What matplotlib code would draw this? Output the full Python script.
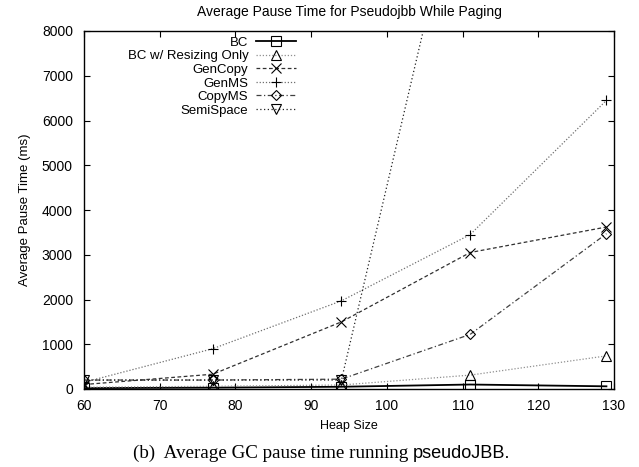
import matplotlib
matplotlib.use("Agg")
import matplotlib.pyplot as plt

heap_size = [60, 77, 94, 111, 129]

bc = [20, 30, 50, 100, 60]
bc_resize = [40, 60, 90, 310, 740]
gencopy = [100, 330, 1500, 3050, 3620]
genms = [150, 900, 1970, 3450, 6450]
copyms = [200, 200, 220, 1220, 3470]
semispace = [200, 200, 200, 12480, 25000]

series = [
    ("BC", bc, dict(color="#000000", linestyle="-", marker="s", lw=1.3)),
    ("BC w/ Resizing Only", bc_resize, dict(color="#909090", linestyle=(0, (1, 1.5)), marker="^", lw=0.9)),
    ("GenCopy", gencopy, dict(color="#303030", linestyle=(0, (3, 2)), marker="x", lw=0.9)),
    ("GenMS", genms, dict(color="#707070", linestyle=(0, (1, 1.5)), marker="+", lw=0.9)),
    ("CopyMS", copyms, dict(color="#404040", linestyle=(0, (4, 2, 1, 2)), marker="D", lw=0.9)),
    ("SemiSpace", semispace, dict(color="#202020", linestyle=(0, (1, 2)), marker="v", lw=0.9)),
]

plt.rcParams["font.family"] = ["Liberation Sans", "DejaVu Sans"]
plt.rcParams["font.size"] = 9

fig = plt.figure(figsize=(6.39, 4.67), dpi=100)
ax = fig.add_axes([84 / 639, 1 - 389 / 467, 530 / 639, 358 / 467])

for label, values, style in series:
    mk = style.pop("marker")
    ms = 5 if mk == "D" else 7
    ax.plot(heap_size, values, label=label, marker=mk, markersize=ms,
            markerfacecolor="none", markeredgecolor="black", markeredgewidth=0.8,
            clip_on=True, **style)

ax.set_xlim(60, 130)
ax.set_ylim(0, 8000)
ax.set_xticks(range(60, 131, 10))
ax.set_yticks(range(0, 8001, 1000))
ax.tick_params(direction="in", top=True, right=True, length=4, labelsize=10)
ax.tick_params(axis="x", pad=7)
ax.tick_params(axis="y", pad=8)
for s in ax.spines.values():
    s.set_linewidth(1.0)

ax.set_title("Average Pause Time for Pseudojbb While Paging", fontsize=10, pad=11)
ax.set_xlabel("Heap Size", fontsize=9, labelpad=5)
ax.set_ylabel("Average Pause Time (ms)", fontsize=9.5, labelpad=8)

leg = ax.legend(loc="upper left", frameon=False,
                markerfirst=False, handlelength=3.0, handletextpad=0.6,
                labelspacing=0.1, fontsize=9.5, borderaxespad=0.3)
leg.set_bbox_to_anchor((0.065, 1.01), transform=ax.transAxes)
for col in leg._legend_handle_box.get_children():
    col.align = "right"

# caption: serif text followed by sans "pseudoJBB."
fig.canvas.draw()
renderer = fig.canvas.get_renderer()
t1 = fig.text(0, 0, "(b)  Average GC pause time running ", family="Liberation Serif",
              fontsize=13.7, va="baseline")
t2 = fig.text(0, 0, "pseudoJBB.", family="Liberation Sans", fontsize=13.1, va="baseline")
w1 = t1.get_window_extent(renderer).width
w2 = t2.get_window_extent(renderer).width
x0 = (639 - w1 - w2) / 2 + 2
y0 = 1 - 458 / 467
t1.set_position((x0 / 639, y0))
t2.set_position(((x0 + w1) / 639, y0))

fig.savefig("out.png", dpi=100)
